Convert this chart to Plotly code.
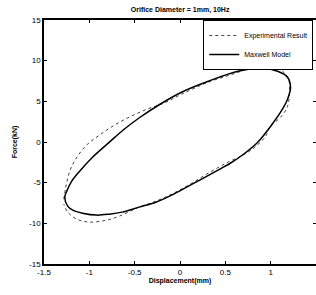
import plotly.graph_objects as go

# Maxwell model loop (displacement mm, force kN)
model_x = [-1.271, -1.249, -1.194, -1.107, -0.965, -0.779, -0.616, -0.452, -0.234, 0.017,
           0.312, 0.640, 0.891, 1.077, 1.186, 1.219, 1.186, 1.109, 1.000, 0.858,
           0.670, 0.563, 0.454, 0.279, 0.094, -0.092, -0.266, -0.452, -0.638, -0.779,
           -0.921, -1.074, -1.183, -1.238, -1.271]
model_y = [-6.78, -6.04, -4.82, -3.59, -1.87, -0.02, 1.57, 2.95, 4.55, 6.12,
           7.47, 8.70, 9.07, 8.70, 7.96, 6.73, 5.26, 3.66, 1.94, -0.02,
           -1.75, -2.55, -3.25, -4.32, -5.43, -6.54, -7.40, -8.01, -8.62, -8.87,
           -8.99, -8.75, -8.38, -7.89, -6.78]

# Experimental result
exp_x = [-1.282, -1.260, -1.216, -1.151, -1.031, -0.889, -0.725, -0.561, -0.365, -0.179,
         0.017, 0.312, 0.640, 0.825, 0.913, 0.989, 1.131, 1.197, 1.208, 1.186,
         1.109, 0.989, 0.945, 0.825, 0.694, 0.530, 0.312, 0.094, -0.092, -0.266,
         -0.452, -0.670, -0.812, -0.998, -1.140, -1.238, -1.282]
exp_y = [-7.03, -5.55, -3.59, -2.11, -0.39, 0.84, 2.06, 3.05, 4.03, 4.77,
         5.87, 7.35, 8.57, 9.43, 9.56, 9.43, 8.70, 7.71, 6.49, 4.40,
         3.05, 1.82, 0.71, -0.64, -1.62, -2.48, -3.83, -5.31, -6.41, -7.27,
         -8.01, -9.12, -9.61, -9.85, -9.48, -8.62, -7.64]

x_ticks = [-1.5, -1, -0.5, 0, 0.5, 1, 1.5]
x_tick_labels = ["-1.5", "-1", "-0.5", "0", "0.5", "1", "1.5"]
y_ticks = [-15, -10, -5, 0, 5, 10, 15]
y_tick_labels = ["-15", "-10", "-5", "0", "5", "10", "15"]

font_family = "Liberation Sans, Arial, sans-serif"

fig = go.Figure()
fig.add_trace(go.Scatter(x=exp_x, y=exp_y, mode="lines", name="Experimental Result",
                         line=dict(color="#444444", width=1, dash="dot"), line_shape="spline"))
fig.add_trace(go.Scatter(x=model_x, y=model_y, mode="lines", name="Maxwell Model",
                         line=dict(color="black", width=1.5), line_shape="spline"))

axis_common = dict(showgrid=False, zeroline=False, showline=True, linecolor="black",
                   linewidth=1.5, mirror="ticks", ticks="inside", ticklen=3,
                   automargin=False,
                   tickcolor="black", tickfont=dict(size=8, color="black", family=font_family))

fig.update_layout(
    width=316, height=295,
    margin=dict(l=44, r=0, t=20, b=31, autoexpand=False),
    paper_bgcolor="white", plot_bgcolor="white",
    title=dict(text="<b>Orifice Diameter = 1mm, 10Hz</b>", x=0.57, xanchor="center",
               y=1 - 10 / 295, yanchor="middle",
               font=dict(size=7, color="black", family=font_family)),
    xaxis=dict(range=[-1.5, 1.5], tickvals=x_ticks, ticktext=x_tick_labels,
               title=dict(text="<b>Displacement(mm)</b>", standoff=2,
                          font=dict(size=7, color="black", family=font_family)),
               **axis_common),
    yaxis=dict(range=[-15, 15], tickvals=y_ticks, ticktext=y_tick_labels,
               title=dict(text="<b>Force(kN)</b>", standoff=11,
                          font=dict(size=7, color="black", family=font_family)),
               **axis_common),
    legend=dict(x=0.99, xanchor="right", y=1.0, yanchor="top",
                bgcolor="white", bordercolor="black", borderwidth=1,
                itemwidth=30, tracegroupgap=0,
                font=dict(size=7, color="black", family=font_family)),
    showlegend=True,
)

fig.write_html("out.html",
               config={"displayModeBar": False},
               post_script="document.body.style.margin='0px';document.body.style.padding='0px';")
